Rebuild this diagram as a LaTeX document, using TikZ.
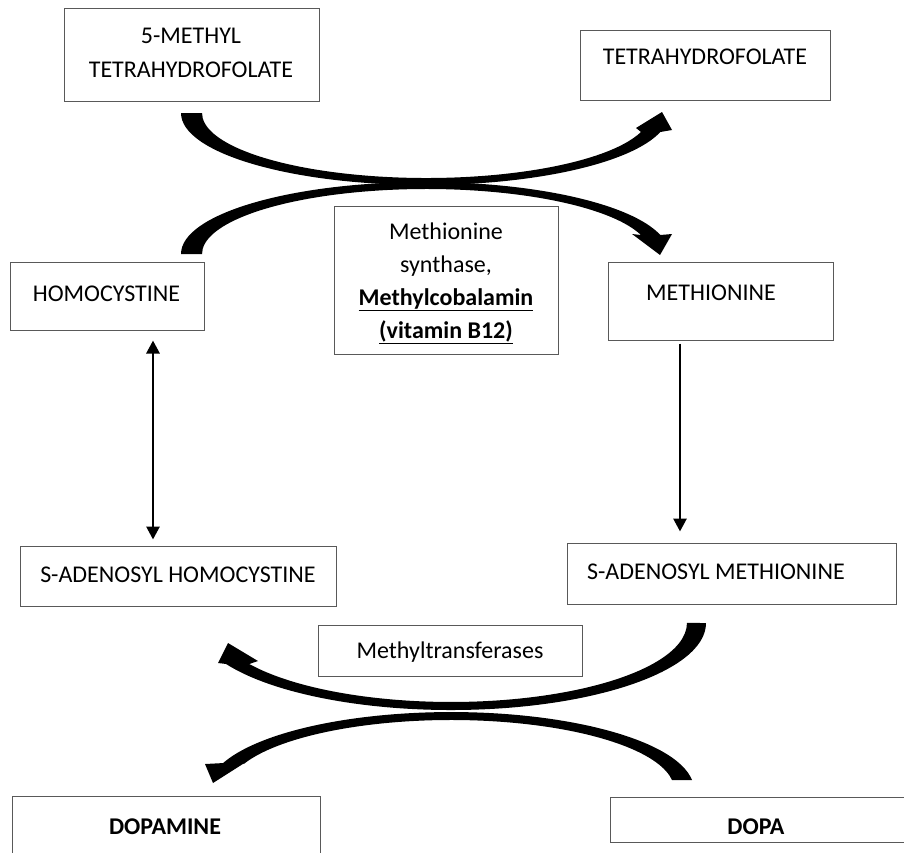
\documentclass[tikz,border=0pt]{standalone}
\usepackage{fontspec}
\setmainfont{Carlito}
\usetikzlibrary{arrows.meta}
\begin{document}
\begin{tikzpicture}[x=1pt,y=-1pt,
  box/.style={draw=black!65, line width=1pt, inner sep=0pt},
  lbl/.style={font=\fontsize{24}{34}\selectfont, align=center, inner sep=0pt},
  blbl/.style={font=\fontsize{24}{34}\selectfont\bfseries, align=center, inner sep=0pt},
  band/.style={fill=black, draw=none},
  vline/.style={line width=2.8pt},
  mytip/.tip={Triangle[length=13pt,width=13pt]}
]
\useasboundingbox (0,0) rectangle (904,852);
\fill[white] (0,0) rectangle (904,852);

% boxes
\node[box, minimum width=255pt, minimum height=93pt] (mthf) at (191.5,54.5) {};
\node[box, minimum width=250pt, minimum height=70pt] (thf) at (705,65) {};
\node[box, minimum width=194pt, minimum height=68pt] (homo) at (107,296) {};
\node[box, minimum width=224pt, minimum height=148pt] (enz) at (446,280) {};
\node[box, minimum width=225pt, minimum height=78pt] (met) at (720.5,301) {};
\node[box, minimum width=316pt, minimum height=60pt] (sah) at (178,576) {};
\node[box, minimum width=329pt, minimum height=61pt] (sam) at (731.5,573.5) {};
\node[box, minimum width=264pt, minimum height=51pt] (mtr) at (450,650.5) {};
\node[box, minimum width=308pt, minimum height=74pt] (dopamine) at (166,833) {};
\node[box, minimum width=300pt, minimum height=45pt] (dopa) at (760,819.5) {};

% texts
\node[lbl] (mthf-t) at (191,52.5) {5-METHYL\\TETRAHYDROFOLATE};
\node[lbl] (thf-t) at (705,57) {TETRAHYDROFOLATE};
\node[lbl] (homo-t) at (106.5,294) {HOMOCYSTINE};
\node[lbl] (met-t) at (711,293) {METHIONINE};
\node[font=\fontsize{24}{33}\selectfont, align=center, inner sep=0pt] (enz-t) at (446,283)
  {Methionine\\synthase,\\{\bfseries\underline{Methylcobalamin}}\\{\bfseries\underline{(vitamin B12)}}};
\node[lbl] (sah-t) at (178,575) {S-ADENOSYL HOMOCYSTINE};
\node[lbl] (sam-t) at (716,572) {S-ADENOSYL METHIONINE};
\node[lbl] (mtr-t) at (450,652) {Methyltransferases};
\node[blbl] (dopamine-t) at (165,827) {DOPAMINE};
\node[blbl] (dopa-t) at (756,827) {DOPA};

% straight arrows
\draw[vline, mytip-mytip] ([xshift=46pt,yshift=-10pt]homo.south) -- ([xshift=-25pt,yshift=6pt]sah.north);
\draw[vline, -mytip] ([xshift=-40.5pt,yshift=-3pt]met.south) -- ([xshift=-51.5pt,yshift=11pt]sam.north);

% top curved arrow: 5-methyl THF -> THF
\fill[band] (181,113) arc[start angle=180, end angle=15.3, x radius=244, y radius=72]
  -- (672,130) -- (662,112) -- (636,128) -- (641,132)
  arc[start angle=17, end angle=180, x radius=224.4, y radius=65] -- cycle;

% top curved arrow: homocystine -> methionine
\fill[band] (181,254) arc[start angle=-180, end angle=-15.3, x radius=244, y radius=72]
  -- (672,234) -- (660,255) -- (632,234) -- (641,235)
  arc[start angle=-17, end angle=-180, x radius=224.4, y radius=65] -- cycle;

% bottom curved arrow: SAM -> SAH
\fill[band] (706,623) arc[start angle=0, end angle=151.9, x radius=255, y radius=87]
  -- (218,663) -- (228,643) -- (258,661) -- (249.3,664)
  arc[start angle=148.7, end angle=0, x radius=236, y radius=79] -- cycle;

% bottom curved arrow: DOPA -> DOPAMINE
\fill[band] (692,780) arc[start angle=-7.4, end angle=-159.75, x radius=243, y radius=78]
  -- (205,764) -- (213,783) -- (246,762) -- (243.7,764)
  arc[start angle=-158.2, end angle=-8.2, x radius=223.3, y radius=70] -- cycle;
\end{tikzpicture}
\end{document}
